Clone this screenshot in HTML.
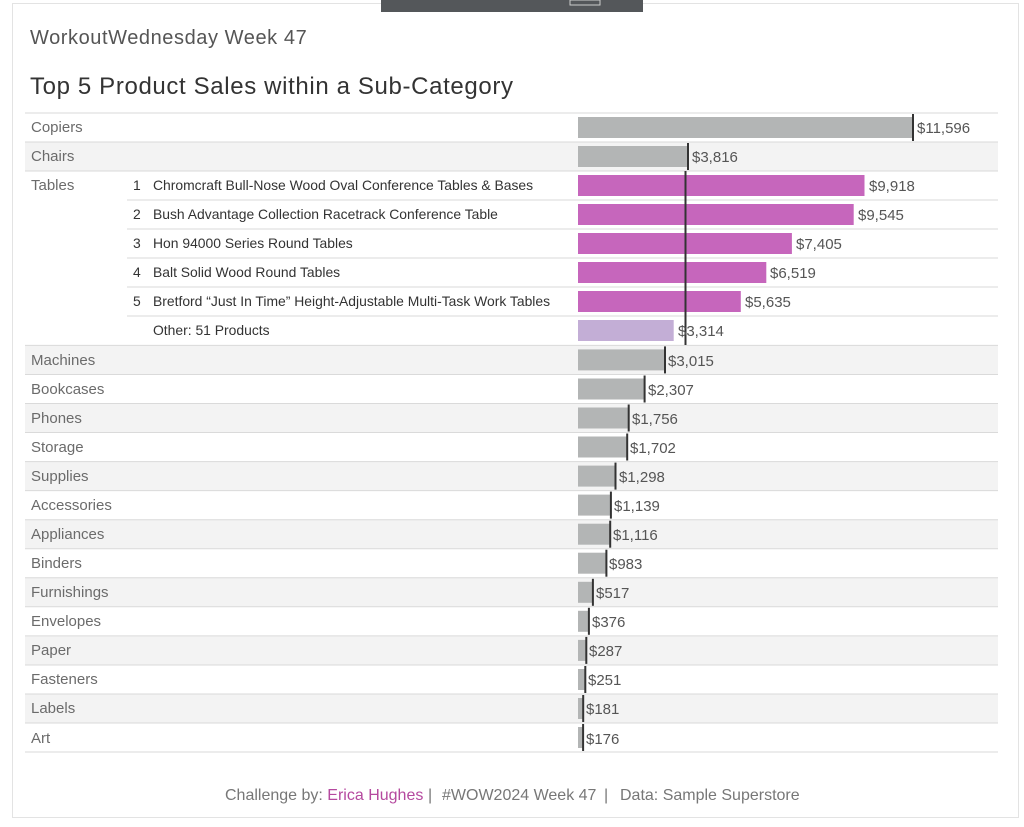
<!DOCTYPE html>
<html><head><meta charset="utf-8"><style>
body{margin:0;background:#fff;width:1024px;height:822px;overflow:hidden}
svg text{font-family:"Liberation Sans",sans-serif}
</style></head><body>
<svg width="1024" height="822" xmlns="http://www.w3.org/2000/svg">
<rect x="12.5" y="3.5" width="1006" height="814" fill="#fff" stroke="#e3e3e3"/>
<rect x="381" y="0" width="262" height="12" fill="#54575a"/>
<rect x="570" y="0" width="30" height="5" fill="none" stroke="#ccc"/>
<text x="30" y="44" font-size="20" fill="#555" letter-spacing="0.3" textLength="277">WorkoutWednesday Week 47</text>
<text x="30" y="94" font-size="24" fill="#333" textLength="483">Top 5 Product Sales within a Sub-Category</text>
<g fill="#f3f3f3">
<rect x="25" y="142" width="973" height="29"/>
<rect x="25" y="345.4" width="973" height="29"/>
<rect x="25" y="403.5" width="973" height="29"/>
<rect x="25" y="461.6" width="973" height="29"/>
<rect x="25" y="519.7" width="973" height="29"/>
<rect x="25" y="577.8" width="973" height="29"/>
<rect x="25" y="635.9" width="973" height="29"/>
<rect x="25" y="694" width="973" height="29"/>
</g>
<g stroke="#dadada" stroke-width="1">
<line x1="25" x2="998" y1="113" y2="113"/>
<line x1="25" x2="998" y1="142" y2="142"/>
<line x1="25" x2="998" y1="171" y2="171"/>
<line x1="127" x2="998" y1="200" y2="200"/>
<line x1="127" x2="998" y1="229" y2="229"/>
<line x1="127" x2="998" y1="258" y2="258"/>
<line x1="127" x2="998" y1="287" y2="287"/>
<line x1="127" x2="998" y1="316" y2="316"/>
<line x1="25" x2="998" y1="345.4" y2="345.4"/>
<line x1="25" x2="998" y1="374.5" y2="374.5"/>
<line x1="25" x2="998" y1="403.5" y2="403.5"/>
<line x1="25" x2="998" y1="432.5" y2="432.5"/>
<line x1="25" x2="998" y1="461.6" y2="461.6"/>
<line x1="25" x2="998" y1="490.6" y2="490.6"/>
<line x1="25" x2="998" y1="519.7" y2="519.7"/>
<line x1="25" x2="998" y1="548.7" y2="548.7"/>
<line x1="25" x2="998" y1="577.8" y2="577.8"/>
<line x1="25" x2="998" y1="606.8" y2="606.8"/>
<line x1="25" x2="998" y1="635.9" y2="635.9"/>
<line x1="25" x2="998" y1="665" y2="665"/>
<line x1="25" x2="998" y1="694" y2="694"/>
<line x1="25" x2="998" y1="723" y2="723"/>
<line x1="25" x2="998" y1="752" y2="752"/>
</g>
<g font-size="15" fill="#6b6b6b">
<text x="31" y="132">Copiers</text>
<text x="31" y="161">Chairs</text>
<text x="31" y="190">Tables</text>
<text x="31" y="365">Machines</text>
<text x="31" y="394">Bookcases</text>
<text x="31" y="423">Phones</text>
<text x="31" y="452">Storage</text>
<text x="31" y="481">Supplies</text>
<text x="31" y="510">Accessories</text>
<text x="31" y="539">Appliances</text>
<text x="31" y="568">Binders</text>
<text x="31" y="597">Furnishings</text>
<text x="31" y="626">Envelopes</text>
<text x="31" y="655">Paper</text>
<text x="31" y="684">Fasteners</text>
<text x="31" y="713">Labels</text>
<text x="31" y="743">Art</text>
</g>
<g font-size="13.9" fill="#333">
<text x="133" y="190">1</text><text x="153" y="190">Chromcraft Bull-Nose Wood Oval Conference Tables &amp; Bases</text>
<text x="133" y="219">2</text><text x="153" y="219">Bush Advantage Collection Racetrack Conference Table</text>
<text x="133" y="248">3</text><text x="153" y="248">Hon 94000 Series Round Tables</text>
<text x="133" y="277">4</text><text x="153" y="277">Balt Solid Wood Round Tables</text>
<text x="133" y="306">5</text><text x="153" y="306">Bretford “Just In Time” Height-Adjustable Multi-Task Work Tables</text>
<text x="153" y="335">Other: 51 Products</text>
</g>
<g fill="#b3b5b5">
<rect x="578" y="117" width="335" height="21"/>
<rect x="578" y="146" width="110" height="21"/>
<rect x="578" y="349.4" width="87" height="21"/>
<rect x="578" y="378.5" width="66.6" height="21"/>
<rect x="578" y="407.5" width="50.7" height="21"/>
<rect x="578" y="436.5" width="49.2" height="21"/>
<rect x="578" y="465.6" width="37.5" height="21"/>
<rect x="578" y="494.6" width="32.9" height="21"/>
<rect x="578" y="523.7" width="32.2" height="21"/>
<rect x="578" y="552.7" width="28.4" height="21"/>
<rect x="578" y="581.8" width="14.9" height="21"/>
<rect x="578" y="610.8" width="10.9" height="21"/>
<rect x="578" y="639.9" width="8.3" height="21"/>
<rect x="578" y="669" width="7.3" height="21"/>
<rect x="578" y="698" width="5.2" height="21"/>
<rect x="578" y="727" width="5.1" height="21"/>
</g>
<g fill="#c666bc">
<rect x="578" y="175" width="286.5" height="21"/>
<rect x="578" y="204" width="275.7" height="21"/>
<rect x="578" y="233" width="213.9" height="21"/>
<rect x="578" y="262" width="188.3" height="21"/>
<rect x="578" y="291" width="162.8" height="21"/>
</g>
<rect x="578" y="320" width="95.7" height="21" fill="#c3aed6"/>
<g fill="#333">
<rect x="912" y="114" width="2" height="27"/>
<rect x="687" y="143" width="2" height="27"/>
<rect x="684.5" y="171" width="2" height="174"/>
<rect x="664" y="346.4" width="2" height="27"/>
<rect x="643.6" y="375.5" width="2" height="27"/>
<rect x="627.7" y="404.5" width="2" height="27"/>
<rect x="626.2" y="433.5" width="2" height="27"/>
<rect x="614.5" y="462.6" width="2" height="27"/>
<rect x="609.9" y="491.6" width="2" height="27"/>
<rect x="609.2" y="520.7" width="2" height="27"/>
<rect x="605.4" y="549.7" width="2" height="27"/>
<rect x="591.9" y="578.8" width="2" height="27"/>
<rect x="587.9" y="607.8" width="2" height="27"/>
<rect x="585.3" y="636.9" width="2" height="27"/>
<rect x="584.3" y="666" width="2" height="27"/>
<rect x="582.2" y="695" width="2" height="27"/>
<rect x="582.1" y="724" width="2" height="27"/>
</g>
<g font-size="15" fill="#555">
<text x="917" y="133">$11,596</text>
<text x="692" y="162">$3,816</text>
<text x="869" y="191">$9,918</text>
<text x="858" y="220">$9,545</text>
<text x="796" y="249">$7,405</text>
<text x="770" y="278">$6,519</text>
<text x="745" y="307">$5,635</text>
<text x="678" y="336">$3,314</text>
<text x="668" y="366">$3,015</text>
<text x="648" y="395">$2,307</text>
<text x="632" y="424">$1,756</text>
<text x="630" y="453">$1,702</text>
<text x="619" y="482">$1,298</text>
<text x="614" y="511">$1,139</text>
<text x="613" y="540">$1,116</text>
<text x="609" y="569">$983</text>
<text x="596" y="598">$517</text>
<text x="592" y="627">$376</text>
<text x="589" y="656">$287</text>
<text x="588" y="685">$251</text>
<text x="586" y="714">$181</text>
<text x="586" y="744">$176</text>
</g>
<g font-size="16" fill="#777">
<text x="225" y="800">Challenge by: <tspan fill="#b5499f">Erica Hughes</tspan></text>
<text x="428" y="800">|</text>
<text x="442" y="800">#WOW2024 Week 47</text>
<text x="604" y="800">|</text>
<text x="620" y="800">Data: Sample Superstore</text>
</g>
</svg>
</body></html>
